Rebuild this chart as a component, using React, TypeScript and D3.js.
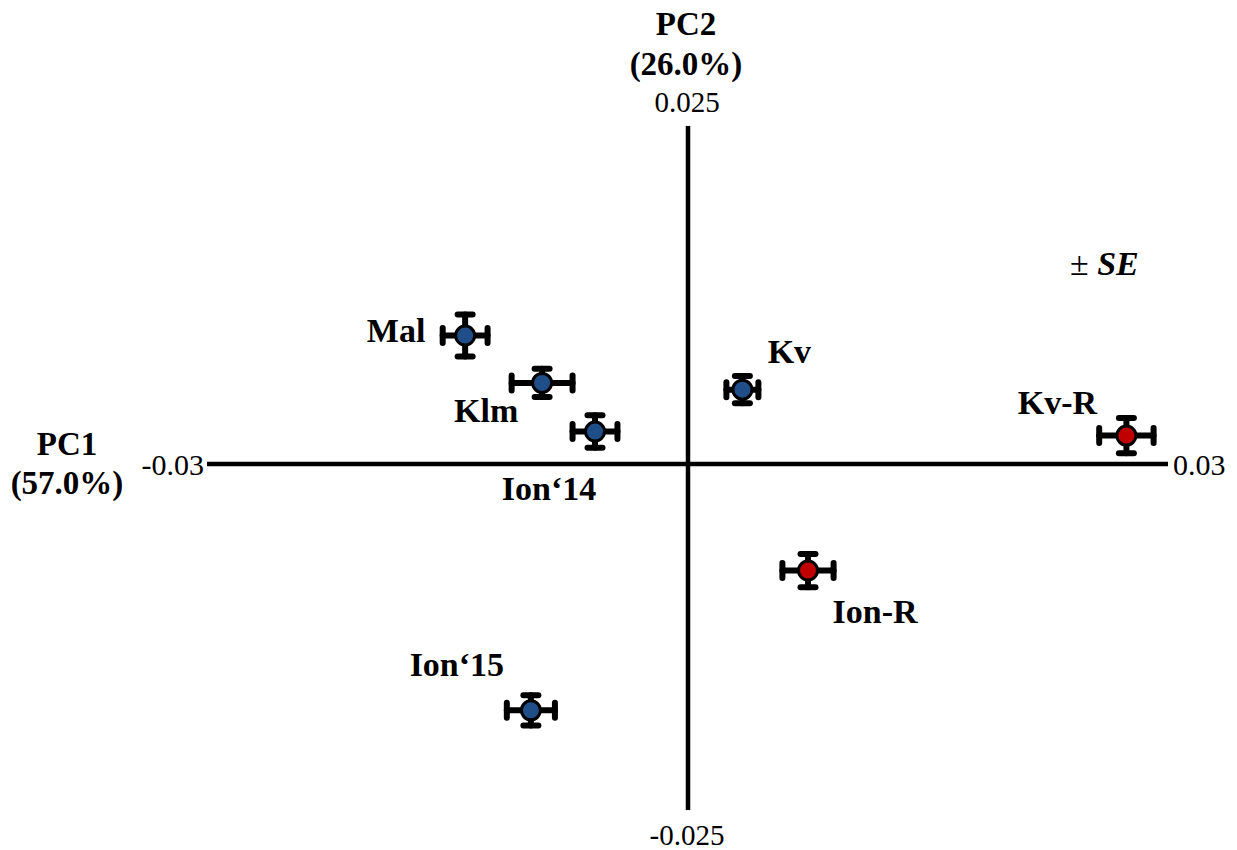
import React from 'react';
import * as d3 from 'd3';

// PCA scores (PC1, PC2) with standard errors
const groups = ['Mal', 'Klm', 'Ion‘14', 'Kv', 'Kv-R', 'Ion-R', 'Ion‘15'];
const pc1 = [-0.0139, -0.0091, -0.0058, 0.0034, 0.0274, 0.0075, -0.0098];
const pc2 = [0.0095, 0.006, 0.0024, 0.0055, 0.0021, -0.0077, -0.0178];
const sePc1 = [0.0014, 0.0019, 0.0014, 0.001, 0.0017, 0.0016, 0.0015];
const sePc2 = [0.00155, 0.00104, 0.0012, 0.001, 0.0013, 0.0012, 0.0011];
const resistant = [false, false, false, false, true, true, false];

const xTickLabels = ['-0.03', '0.03'];
const yTickLabels = ['0.025', '-0.025'];

// label placement relative to point (px)
const labelOffsets: [number, number][] = [
  [-69, 6], [-56, 39], [-46, 68], [47, -27], [-69, -22], [67, 52], [-74, -34],
];

const W = 1237;
const H = 850;

const App = () => {
  const x = d3.scaleLinear().domain([-0.03, 0, 0.03]).range([207, 688, 1168]);
  const y = d3.scaleLinear().domain([-0.025, 0, 0.025]).range([810, 464, 126]);
  const serif = "'Liberation Serif', 'Times New Roman', Times, serif";
  const cap = 7.5;

  return (
    <div style={{ position: 'absolute', left: 0, top: 0 }}>
      <svg width={W} height={H} style={{ display: 'block', background: '#fff', fontFamily: serif }}>
        {/* axes */}
        <line x1={x(-0.03)} x2={x(0.03)} y1={y(0)} y2={y(0)} stroke="#000" strokeWidth={4.5} />
        <line x1={x(0)} x2={x(0)} y1={y(0.025)} y2={y(-0.025)} stroke="#000" strokeWidth={4.5} />

        {/* tick labels */}
        <text x={x(-0.03) - 3} y={y(0) + 11} fontSize={30} textAnchor="end">{xTickLabels[0]}</text>
        <text x={x(0.03) + 5} y={y(0) + 11} fontSize={30} textAnchor="start">{xTickLabels[1]}</text>
        <text x={x(0) - 1} y={y(0.025) - 14} fontSize={29} textAnchor="middle">{yTickLabels[0]}</text>
        <text x={x(0) - 1} y={y(-0.025) + 35} fontSize={29} textAnchor="middle">{yTickLabels[1]}</text>

        {/* axis titles */}
        <text x={67} y={455} fontSize={33} fontWeight="bold" textAnchor="middle">PC1</text>
        <text x={67} y={494} fontSize={33} fontWeight="bold" textAnchor="middle">(57.0%)</text>
        <text x={x(0) - 2} y={35} fontSize={33} fontWeight="bold" textAnchor="middle">PC2</text>
        <text x={x(0) - 2} y={75} fontSize={33} fontWeight="bold" textAnchor="middle">(26.0%)</text>

        <text x={1070} y={275} fontSize={34}>
          ± <tspan fontWeight="bold" fontStyle="italic">SE</tspan>
        </text>

        {/* points with error bars */}
        {groups.map((g, i) => {
          const cx = x(pc1[i]);
          const cy = y(pc2[i]);
          const x0 = x(pc1[i] - sePc1[i]);
          const x1 = x(pc1[i] + sePc1[i]);
          const y0 = y(pc2[i] - sePc2[i]);
          const y1 = y(pc2[i] + sePc2[i]);
          return (
            <g key={g} stroke="#000" strokeWidth={6} strokeLinecap="round">
              <line x1={x0} x2={x1} y1={cy} y2={cy} />
              <line x1={cx} x2={cx} y1={y0} y2={y1} />
              <line x1={x0} x2={x0} y1={cy - cap} y2={cy + cap} />
              <line x1={x1} x2={x1} y1={cy - cap} y2={cy + cap} />
              <line x1={cx - cap} x2={cx + cap} y1={y0} y2={y0} />
              <line x1={cx - cap} x2={cx + cap} y1={y1} y2={y1} />
              <circle cx={cx} cy={cy} r={9.5} fill={resistant[i] ? '#c00000' : '#1f4e89'} strokeWidth={3} />
            </g>
          );
        })}

        {/* point labels */}
        {groups.map((g, i) => (
          <text
            key={g + '-label'}
            x={x(pc1[i]) + labelOffsets[i][0]}
            y={y(pc2[i]) + labelOffsets[i][1]}
            fontSize={34}
            fontWeight="bold"
            textAnchor="middle"
          >
            {g}
          </text>
        ))}
      </svg>
    </div>
  );
};

export default App;
